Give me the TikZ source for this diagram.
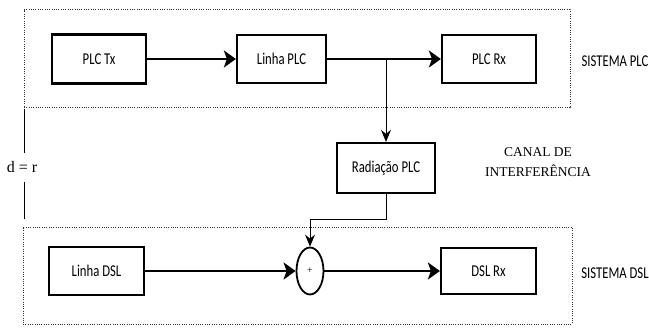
\documentclass[tikz,border=0pt]{standalone}
\usepackage{fontspec}
\setmainfont{Liberation Serif}
\newfontfamily\boxfont[FakeStretch=0.77]{Carlito}
\usetikzlibrary{arrows.meta,shapes.geometric}
\begin{document}
\begin{tikzpicture}[x=1pt,y=-1pt,
  blk/.style={draw,line width=2.2pt,inner sep=0pt,font=\boxfont\fontsize{16.5}{18}\selectfont},
  frame/.style={draw=black!80,line width=1pt,dash pattern=on 1pt off 1.3pt,inner sep=0pt},
  mainarrow/.style={line width=2.6pt,-{Stealth[length=12pt,width=17pt,inset=3pt]}},
  thinarrow/.style={line width=1pt,-{Stealth[length=12pt,width=10pt,inset=4pt]}},
  lbl/.style={font=\boxfont\fontsize{16.5}{18}\selectfont},
  serif/.style={font=\fontsize{13.5}{20}\selectfont}]
\useasboundingbox (0,0) rectangle (649,329);
% frames
\node[frame,minimum width=546pt,minimum height=98pt] (fplc) at (297,59) {};
\node[frame,minimum width=549pt,minimum height=97pt] (fdsl) at (297.5,275.5) {};
% top row
\node[blk,minimum width=94pt,minimum height=49pt] (tx) at (99,59) {PLC Tx};
\node[blk,minimum width=89pt,minimum height=48pt] (lp) at (281.5,59) {Linha PLC};
\node[blk,minimum width=94pt,minimum height=48pt] (rx) at (489,59) {PLC Rx};
% interference
\node[blk,minimum width=98pt,minimum height=50pt] (rad) at (386,168) {Radiação PLC};
% bottom row
\node[blk,minimum width=95pt,minimum height=48pt] (ld) at (96.5,271) {Linha DSL};
\node[draw,ellipse,line width=1.8pt,inner sep=0pt,minimum width=27pt,minimum height=47pt,font=\fontsize{10}{10}\selectfont] (sum) at (310,271) {+};
\node[blk,minimum width=95pt,minimum height=46pt] (drx) at (488.5,271) {DSL Rx};
% connectors
\draw[mainarrow] (tx) -- (lp);
\draw[mainarrow] (lp) -- (rx);
\coordinate (br) at (386,59);
\draw[thinarrow] (br) -- (rad.north);
\draw[thinarrow] (rad.south) -- ++(0,25) -| (sum.north);
\draw[mainarrow] (ld) -- (sum);
\draw[mainarrow] (sum) -- (drx);
% labels
\node[lbl] (splc) at (615,61) {SISTEMA PLC};
\node[lbl] (sdsl) at (615,273) {SISTEMA DSL};
\node[serif,align=center] (canal) at (538,162) {CANAL DE\\INTERFERÊNCIA};
\node[font=\fontsize{16}{18}\selectfont,inner sep=0pt] (dr) at (22,167) {d = r};
\coordinate (v1) at (24,109);
\coordinate (v2) at (24,153);
\coordinate (v3) at (24,182);
\coordinate (v4) at (24,219);
\draw[line width=0.9pt] (v1) -- (v2);
\draw[line width=0.9pt] (v3) -- (v4);
\end{tikzpicture}
\end{document}
